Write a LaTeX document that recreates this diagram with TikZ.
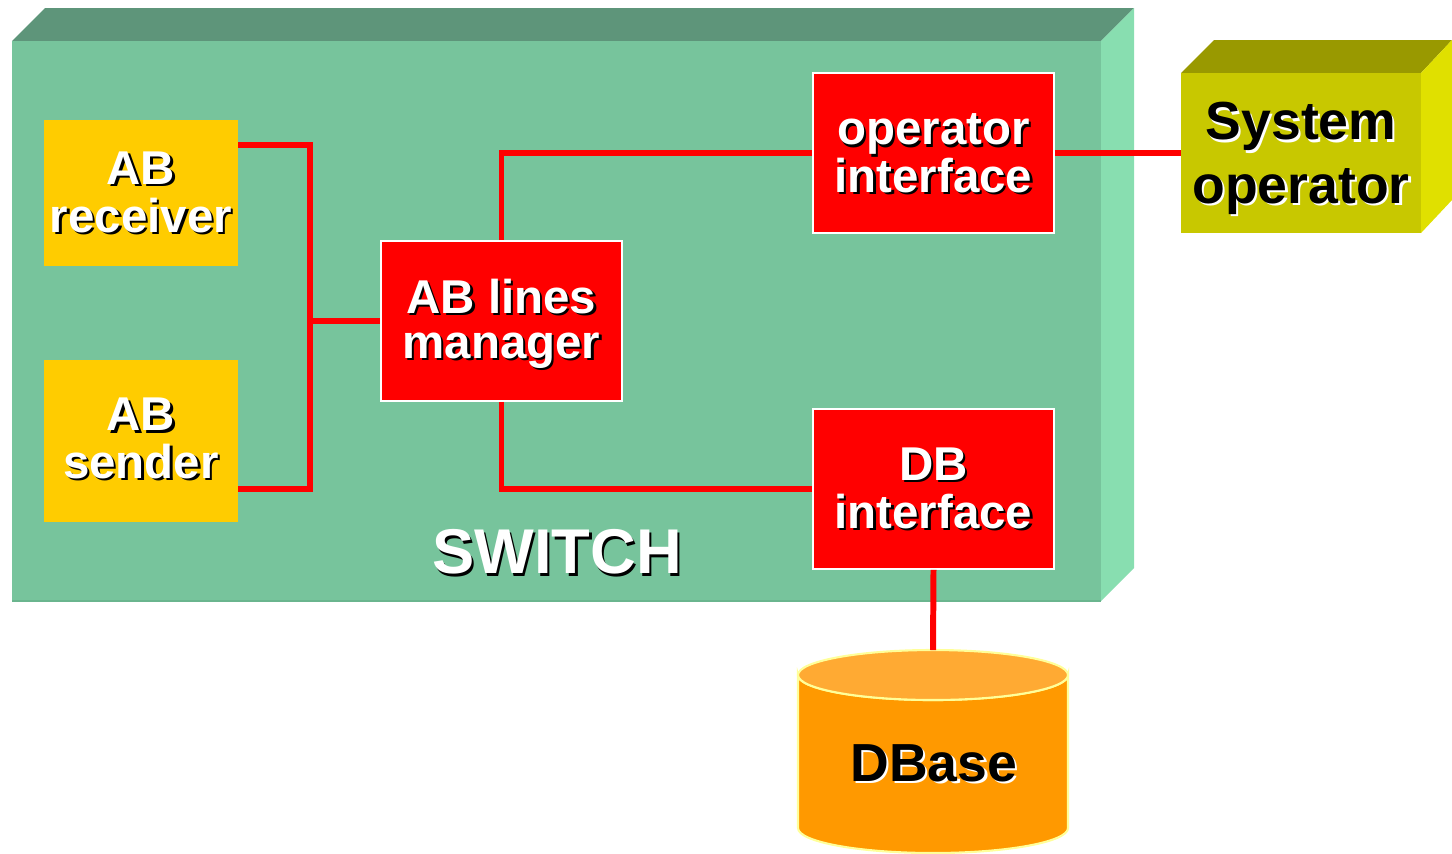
\documentclass[tikz,border=0pt]{standalone}
\usepackage{fontspec}
\setmainfont{Liberation Sans}
\usetikzlibrary{calc}
\definecolor{swfront}{HTML}{77C49C}
\definecolor{swtop}{HTML}{5E957A}
\definecolor{swside}{HTML}{88DEB0}
\definecolor{swedge}{HTML}{6AB58E}
\definecolor{abyel}{HTML}{FFCC00}
\definecolor{sofront}{HTML}{C8C800}
\definecolor{sotop}{HTML}{999900}
\definecolor{soside}{HTML}{E0E000}
\definecolor{cylbody}{HTML}{FF9900}
\definecolor{cyltop}{HTML}{FFAA33}
\definecolor{cyledge}{HTML}{FFFF99}
\newcommand\shtxt[3]{\makebox[0pt][l]{\kern1.3pt\raisebox{-1.3pt}{\color{#2}\begin{tabular}{@{}c@{}}#3\end{tabular}}}{\color{#1}\begin{tabular}{@{}c@{}}#3\end{tabular}}}
\newcommand\lowered[2]{\raisebox{-#1}[\height][\depth]{#2}}
\renewcommand\arraystretch{1}
\tikzset{
  yelbox/.style={fill=abyel, draw=none, minimum width=194*0.02cm, inner sep=0pt, font=\bfseries\fontsize{27}{25.6}\selectfont},
  redbox/.style={fill=red, draw=white, line width=1pt, minimum width=241*0.02cm, minimum height=160*0.02cm, inner sep=0pt, font=\bfseries\fontsize{27}{25.6}\selectfont},
  wire/.style={draw=red, line width=3.4pt, line join=miter},
}
\begin{document}
\begin{tikzpicture}[x=0.02cm,y=-0.02cm]
\useasboundingbox (0,0) rectangle (1452,853);
% switch box
\fill[swtop] (12,41) -- (45,8) -- (1134,8) -- (1101,41) -- cycle;
\fill[swside] (1101,41) -- (1134,8) -- (1134,568) -- (1101,601) -- cycle;
\fill[swfront] (12,41) rectangle (1101,601);
\draw[swedge, line width=1pt] (12,601) -- (1101,601);
\node (switch) at (557,556) {\shtxt{white}{black}{\bfseries\fontsize{36}{36}\selectfont SWITCH}};
% system operator box
\fill[sotop] (1181,73) -- (1214,40) -- (1452,40) -- (1421,73) -- cycle;
\fill[soside] (1421,73) -- (1452,40) -- (1452,200) -- (1421,233) -- cycle;
\node[fill=sofront, draw=none, minimum width=240*0.02cm, minimum height=160*0.02cm, inner sep=0pt, font=\bfseries\fontsize{30.5}{36}\selectfont] (sysop) at (1301,153) {\lowered{4pt}{\shtxt{black}{white}{System\\operator}}};
% inner boxes
\node[yelbox, minimum height=146*0.02cm] (rec) at (141,193) {\lowered{4pt}{\shtxt{white}{black}{AB\\receiver}}};
\node[yelbox, minimum height=162*0.02cm] (snd) at (141,441) {\lowered{3pt}{\shtxt{white}{black}{AB\\sender}}};
\node[redbox] (mgr) at (501.5,321) {\lowered{3pt}{\shtxt{white}{black}{AB lines\\manager}}};
\node[redbox] (opi) at (933.5,153) {\lowered{4.5pt}{\shtxt{white}{black}{operator\\interface}}};
\node[redbox] (dbi) at (933.5,489) {\lowered{4pt}{\shtxt{white}{black}{DB\\interface}}};
% cylinder
\filldraw[fill=cylbody, draw=cyledge, line width=1.2pt] (798,675) -- (798,828) arc[start angle=180, end angle=0, x radius=135, y radius=25] -- (1068,675) arc[start angle=0, end angle=180, x radius=135, y radius=25] -- cycle;
\filldraw[fill=cyltop, draw=cyledge, line width=1.2pt] (933,675) ellipse [x radius=135, y radius=25];
\coordinate (dbtop) at (933,650);
\node[font=\bfseries\fontsize{30.5}{30.5}\selectfont] (dbase) at (934,772) {\shtxt{black}{white}{DBase}};
% connectors
\coordinate (j) at (310,321);
\draw[wire] ($(rec.north east)+(0,25)$) -| (j);
\draw[wire] ($(snd.south east)+(0,-33)$) -| (j);
\draw[wire] (j) -- (mgr.west);
\draw[wire] (mgr.north) |- (opi.west);
\draw[wire] (mgr.south) |- (dbi.west);
\draw[wire] (opi.east) -- (sysop.west);
\draw[wire] (dbi.south) -- (dbtop);
\end{tikzpicture}
\end{document}
